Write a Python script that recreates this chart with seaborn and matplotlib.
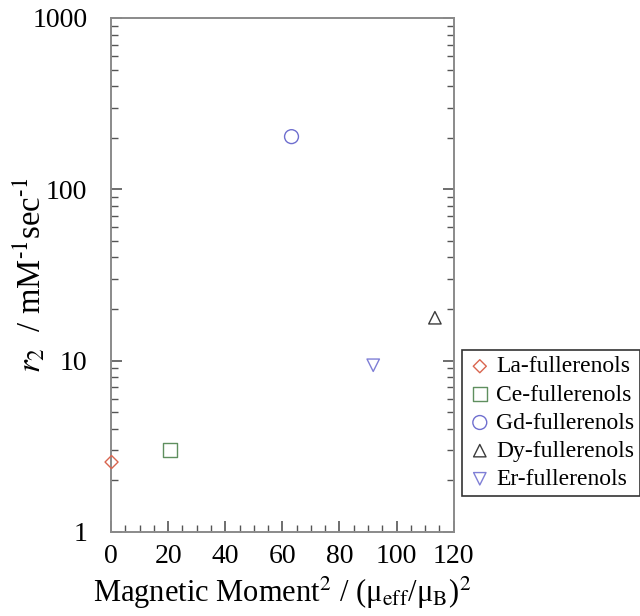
import matplotlib
matplotlib.use("Agg")
import matplotlib.pyplot as plt
import matplotlib.ticker as mticker
import seaborn as sns

# values
names = ['La-fullerenols', 'Ce-fullerenols', 'Gd-fullerenols', 'Dy-fullerenols', 'Er-fullerenols']
moment_sq = [0.2, 20.6, 63.2, 113.4, 91.8]
r2 = [2.56, 3.0, 203.0, 17.8, 9.4]
markers = ['D', 's', 'o', '^', 'v']
colors = ['#d9654f', '#5f8f5f', '#6f6fcf', '#3c3c3c', '#7f7fd6']
sizes = [44, 100, 100, 80, 80]

sns.set_theme(style="ticks")
plt.rcParams['font.family'] = ['Liberation Serif', 'DejaVu Serif']
plt.rcParams['mathtext.fontset'] = 'stix'
plt.rcParams['text.color'] = 'black'
plt.rcParams['axes.labelcolor'] = 'black'

fig = plt.figure(figsize=(6.4, 6.16), dpi=100)
ax = fig.add_axes([0.1734, 0.1364, 0.5356, 0.8344])

for n, x, y, m, c, s in zip(names, moment_sq, r2, markers, colors, sizes):
    sns.scatterplot(x=[x], y=[y], marker=m, s=s, color=c, facecolor='none',
                    edgecolor=c, linewidth=1.0, label=n, ax=ax, clip_on=False, zorder=5)

ax.set_yscale('log')
ax.set_xlim(0, 120)
ax.set_ylim(1, 1000)

ax.xaxis.set_major_locator(mticker.MultipleLocator(20))
ax.xaxis.set_minor_locator(mticker.MultipleLocator(5))
ax.yaxis.set_major_locator(mticker.LogLocator(base=10))
ax.yaxis.set_minor_locator(mticker.LogLocator(base=10, subs=range(2, 10)))
ax.yaxis.set_major_formatter(mticker.FuncFormatter(lambda v, p: f"{v:g}"))
ax.yaxis.set_minor_formatter(mticker.NullFormatter())

spine_c = '#8a8a8a'
for sp in ax.spines.values():
    sp.set_color(spine_c)
    sp.set_linewidth(1.4)
    sp.set_visible(True)

ax.tick_params(axis='both', which='both', direction='in', colors='#555555', labelcolor='black',
               labelsize=20)
ax.tick_params(axis='y', which='both', left=True, right=True)
ax.tick_params(axis='x', which='both', top=False)
ax.tick_params(which='major', length=8, width=1.2)
ax.tick_params(which='minor', length=5, width=1.0)
ax.tick_params(axis='y', pad=17)
ax.tick_params(axis='x', pad=9)

ax.set_xlabel('Magnetic Moment$^2$ / (\u03bc$_{\\rm eff}$/\u03bc$_{\\rm B}$)$^2$', fontsize=22, labelpad=4)
ax.set_ylabel(r'$r_2$  / mM$^{\text{-1}}$sec$^{\text{-1}}$', fontsize=23.5)
ax.yaxis.set_label_coords(-0.185, 0.5)

leg = ax.legend(loc='lower left', bbox_to_anchor=(0.722, 0.195), bbox_transform=fig.transFigure,
                borderaxespad=0, fontsize=17, frameon=True, fancybox=False, handletextpad=0.2,
                handlelength=1.0, borderpad=0.25, labelspacing=0.28)
leg.get_frame().set_edgecolor('black')
leg.get_frame().set_linewidth(1.2)

fig.savefig('out.png', dpi=100)
